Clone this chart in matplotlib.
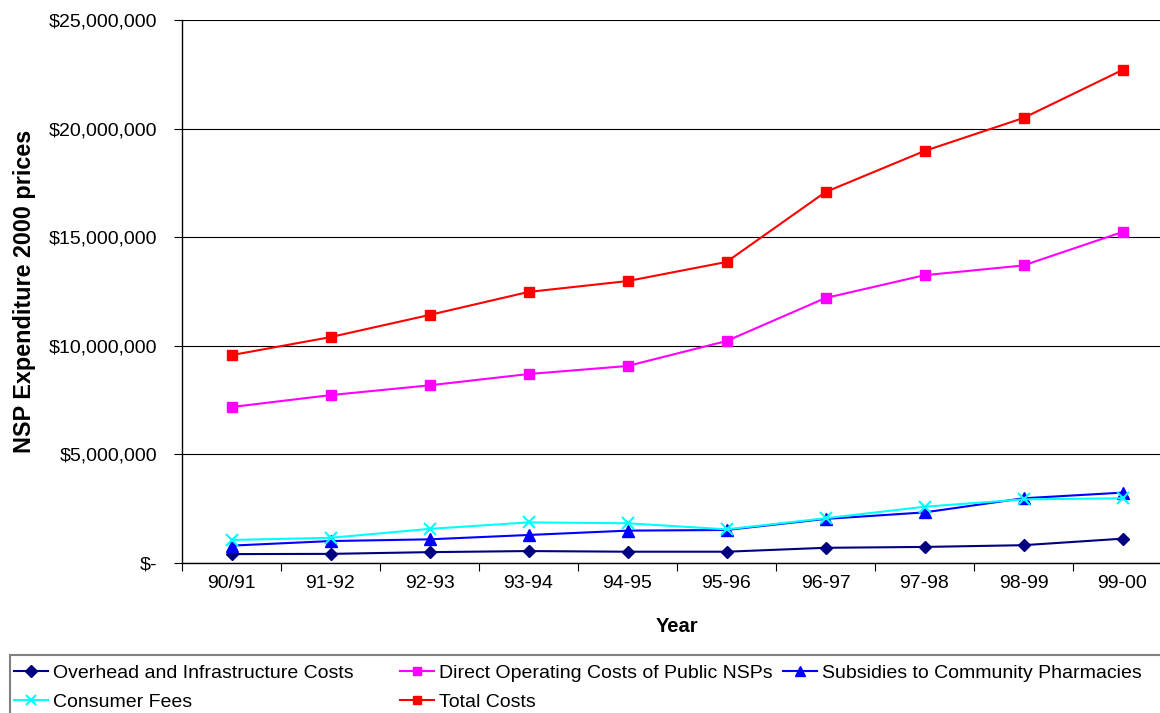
import matplotlib
matplotlib.use("Agg")
import matplotlib.pyplot as plt
from matplotlib.ticker import FuncFormatter, FixedLocator
from matplotlib.patches import Rectangle

plt.rcParams['font.family'] = ['Liberation Sans', 'DejaVu Sans']

years = ["90/91", "91-92", "92-93", "93-94", "94-95", "95-96", "96-97", "97-98", "98-99", "99-00"]
overhead = [410000, 420000, 500000, 550000, 520000, 520000, 700000, 740000, 820000, 1120000]
direct = [7180000, 7730000, 8180000, 8700000, 9070000, 10220000, 12200000, 13250000, 13700000, 15240000]
subsidies = [800000, 1010000, 1090000, 1290000, 1490000, 1520000, 2030000, 2330000, 2980000, 3240000]
consumer = [1060000, 1160000, 1570000, 1870000, 1830000, 1550000, 2060000, 2590000, 2930000, 2980000]
total = [9570000, 10400000, 11420000, 12480000, 12980000, 13860000, 17080000, 18970000, 20490000, 22700000]

series = [
    ("Overhead and Infrastructure Costs", overhead, "#000080", "D", 6.5),
    ("Direct Operating Costs of Public NSPs", direct, "#FF00FF", "s", 7),
    ("Subsidies to Community Pharmacies", subsidies, "#0000FF", "^", 8),
    ("Consumer Fees", consumer, "#00FFFF", "x", 8),
    ("Total Costs", total, "#FF0000", "s", 7),
]

W, H = 1160, 713
fig = plt.figure(figsize=(W / 100, H / 100), dpi=100)
ax = fig.add_axes([182 / W, (H - 563) / H, 990 / W, 543 / H])

x = list(range(len(years)))
handles = []
for name, vals, col, mk, ms in series:
    mew = 1.5 if mk == "x" else 1
    h, = ax.plot(x, vals, color=col, marker=mk, markersize=ms, linewidth=1.5,
                 markeredgewidth=mew, markeredgecolor=col, markerfacecolor=col, label=name)
    handles.append(h)

ax.set_xlim(-0.5, len(years) - 0.5)
ax.set_ylim(0, 25000000)
ax.yaxis.set_major_locator(FixedLocator([0, 5e6, 10e6, 15e6, 20e6, 25e6]))
ax.yaxis.set_major_formatter(FuncFormatter(lambda v, p: "$-" if v == 0 else "${:,.0f}".format(v)))
ax.grid(axis='y', color='black', linewidth=0.8)
ax.set_axisbelow(True)

ax.set_xticks(x)
ax.set_xticklabels(years)
ax.xaxis.set_minor_locator(FixedLocator([i - 0.5 for i in range(len(years) + 1)]))
ax.tick_params(axis='x', which='major', length=0, labelsize=14, pad=9)
ax.tick_params(axis='x', which='minor', length=6, width=0.8, direction='out')
ax.tick_params(axis='y', which='major', length=6, width=0.8, labelsize=14, pad=12)

for s in ['top', 'right']:
    ax.spines[s].set_visible(False)
ax.spines['left'].set_linewidth(1)
ax.spines['bottom'].set_linewidth(1)

ax.set_xlabel("Year", fontsize=14.5, fontweight='bold', labelpad=18)
ax.set_ylabel("NSP Expenditure 2000 prices", fontsize=16.8, fontweight='bold', labelpad=9)

# Legend frame
fig.patches.append(Rectangle((10 / W, -0.05), 1.2, (H - 655) / H + 0.05, transform=fig.transFigure,
                             fill=False, edgecolor='#808080', linewidth=1.5))

cols = [([handles[0], handles[3]], 10), ([handles[1], handles[4]], 396), ([handles[2]], 779)]
for hs, xp in cols:
    fig.legend(handles=hs, labels=[h.get_label() for h in hs], loc='upper left',
               bbox_to_anchor=(xp / W, (H - 660) / H), frameon=False, fontsize=14,
               handlelength=1.75, handletextpad=0.25, labelspacing=0.6, borderaxespad=0,
               borderpad=0.2, markerscale=0.9)

fig.savefig("out.png", dpi=100)
